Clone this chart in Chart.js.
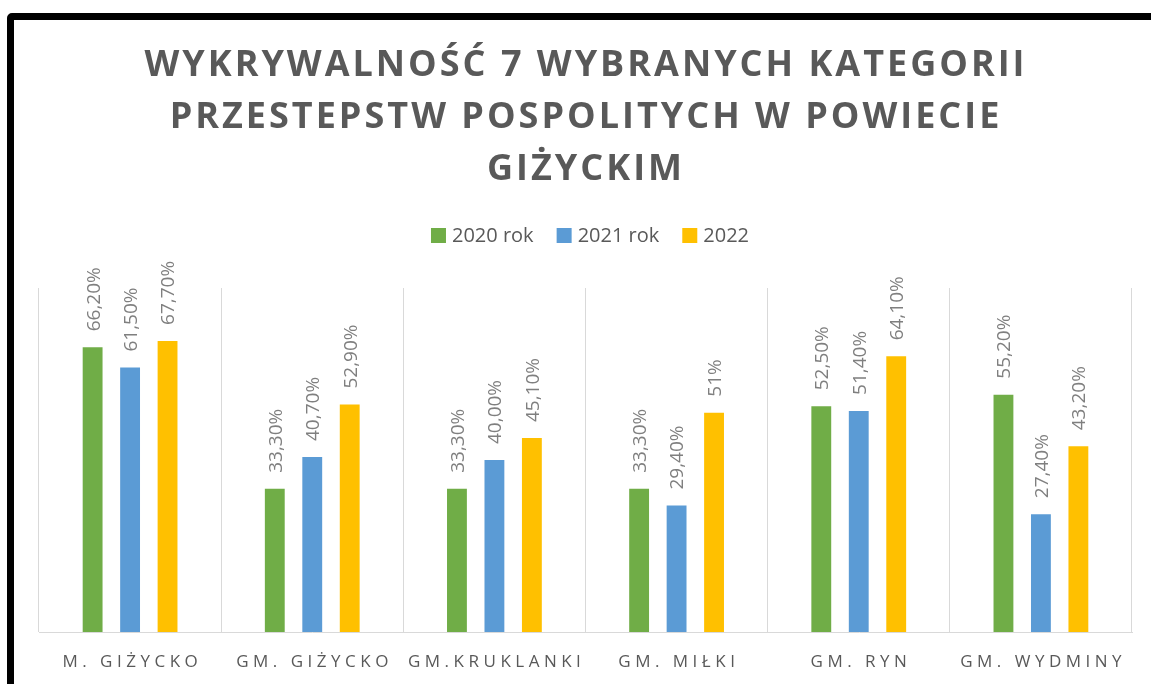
<!DOCTYPE html>
<html>
<head>
<meta charset="utf-8">
<script src="https://cdn.jsdelivr.net/npm/chart.js@4.4.1/dist/chart.umd.min.js"></script>
<style>
html, body { margin: 0; padding: 0; background: #fff; overflow: hidden; }
#frame { position: absolute; left: 7px; top: 13px; width: 1200px; height: 720px; border: 7px solid #000; border-radius: 5px; }
#wrap { position: absolute; left: 0; top: 0; width: 1151px; height: 684px; }
</style>
</head>
<body>
<div id="frame"></div>
<div id="wrap"><canvas id="myChart" width="1151" height="684"></canvas></div>
<script>
const titleLines = ["WYKRYWALNOŚĆ 7 WYBRANYCH KATEGORII", "PRZESTEPSTW POSPOLITYCH W POWIECIE", "GIŻYCKIM"];
const categories = ["M. GIŻYCKO", "GM. GIŻYCKO", "GM.KRUKLANKI", "GM. MIŁKI", "GM. RYN", "GM. WYDMINY"];
const seriesNames = ["2020 rok", "2021 rok", "2022"];
const values2020 = [66.2, 33.3, 33.3, 33.3, 52.5, 55.2];
const values2021 = [61.5, 40.7, 40.0, 29.4, 51.4, 27.4];
const values2022 = [67.7, 52.9, 45.1, 51, 64.1, 43.2];
// labels exactly as printed on the chart
const labels2020 = ["66,20%", "33,30%", "33,30%", "33,30%", "52,50%", "55,20%"];
const labels2021 = ["61,50%", "40,70%", "40,00%", "29,40%", "51,40%", "27,40%"];
const labels2022 = ["67,70%", "52,90%", "45,10%", "51%", "64,10%", "43,20%"];
const barColors = [
    "#70ad47", //2020
    "#5b9bd5", //2021
    "#ffc000" //2022
];
const textGray = "#595959";
const labelGray = "#7f7f7f";

const seriesValues = [values2020, values2021, values2022];
const seriesLabels = [labels2020, labels2021, labels2022];

// title, legend, axis labels and bar labels drawn by hand (letter spacing)
const decorPlugin = {
    id: "decor",
    afterDraw(chart) {
        const ctx = chart.ctx;
        ctx.save();
        //Title
        ctx.fillStyle = textGray;
        ctx.font = "bold 36px 'Open Sans'";
        ctx.letterSpacing = "3px";
        ctx.textAlign = "center";
        ctx.textBaseline = "alphabetic";
        titleLines.forEach((line, i) => ctx.fillText(line, 586, 76 + i * 52));
        //Legend
        ctx.font = "20px 'Open Sans'";
        ctx.letterSpacing = "0px";
        ctx.textAlign = "left";
        ctx.textBaseline = "middle";
        const boxSize = 15, boxGap = 6, itemGap = 23;
        const widths = chart.data.datasets.map(ds => boxSize + boxGap + ctx.measureText(ds.label).width);
        let x = 590 - (widths.reduce((a, b) => a + b, 0) + itemGap * (widths.length - 1)) / 2;
        chart.data.datasets.forEach((ds, i) => {
            ctx.fillStyle = ds.backgroundColor;
            ctx.fillRect(x, 228, boxSize, boxSize);
            ctx.fillStyle = textGray;
            ctx.fillText(ds.label, x + boxSize + boxGap, 236);
            x += widths[i] + itemGap;
        });
        //Category labels
        const xScale = chart.scales.x;
        ctx.font = "17px 'Open Sans'";
        ctx.letterSpacing = "4.5px";
        ctx.textAlign = "center";
        ctx.textBaseline = "alphabetic";
        categories.forEach((c, i) => ctx.fillText(c, xScale.getPixelForTick(i) + 2.25, 667));
        //Bar labels
        ctx.font = "19px 'Open Sans'";
        ctx.letterSpacing = "0px";
        ctx.fillStyle = labelGray;
        chart.data.datasets.forEach((ds, i) => {
            chart.getDatasetMeta(i).data.forEach((bar, j) => {
                ctx.save();
                ctx.translate(bar.x, bar.y - 16);
                ctx.rotate(-Math.PI / 2);
                ctx.textAlign = "left";
                ctx.textBaseline = "middle";
                ctx.fillText(seriesLabels[i][j], 0, 1.5);
                ctx.restore();
            });
        });
        ctx.restore();
    }
};

new Chart("myChart", {
    type: "bar",
    data: {
        labels: categories,
        datasets: seriesNames.map((name, i) => ({
            label: name,
            data: seriesValues[i],
            backgroundColor: barColors[i],
            categoryPercentage: 0.617,
            barPercentage: 0.53
        }))
    },
    options: {
        responsive: false,
        animation: false,
        devicePixelRatio: 1,
        layout: { padding: { left: 39, right: 19, top: 288, bottom: 52 } },
        plugins: {
            legend: { display: false },
            title: { display: false },
            tooltip: { enabled: false }
        },
        scales: {
            x: {
                grid: { display: true, offset: true, color: "#d9d9d9", lineWidth: 1, drawTicks: false },
                border: { display: true, color: "#d9d9d9", width: 1 },
                ticks: { display: false }
            },
            y: { display: false, min: 0, max: 80 }
        }
    },
    plugins: [decorPlugin]
});
</script>
</body>
</html>
